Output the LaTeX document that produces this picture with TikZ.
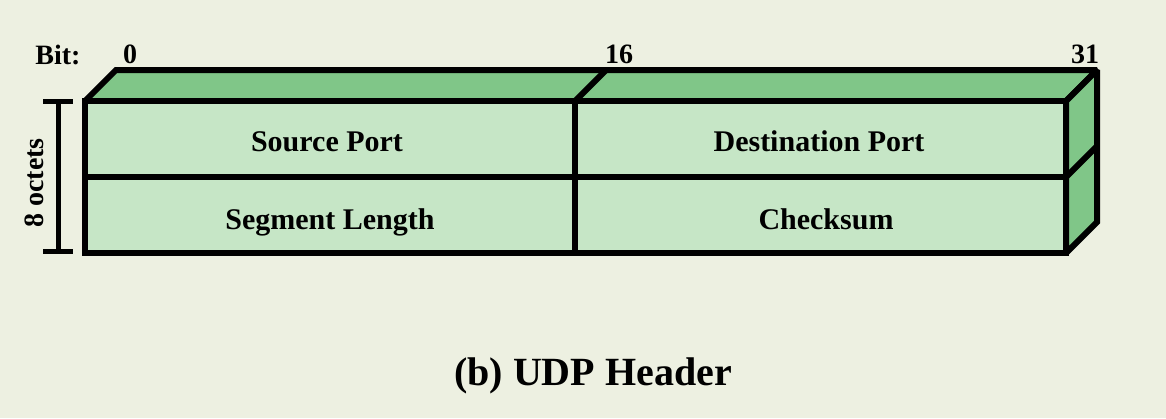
\documentclass[tikz,border=0pt]{standalone}
\usepackage{fontspec}
\setmainfont{Liberation Serif}
\usetikzlibrary{positioning,calc}
\definecolor{bgcol}{HTML}{EDF0E1}
\definecolor{facecol}{HTML}{C6E6C6}
\definecolor{topcol}{HTML}{80C688}

\tikzset{
  edge/.style={line width=6pt,line join=miter,miter limit=1.5},
  fieldlbl/.style={font=\fontsize{30}{32}\selectfont\bfseries,inner sep=0pt,anchor=base},
  bitlbl/.style={font=\fontsize{28}{30}\selectfont\bfseries,inner sep=0pt,anchor=base},
  titlelbl/.style={font=\fontsize{40}{44}\selectfont\bfseries,inner sep=0pt,anchor=base}
}

\begin{document}
\begin{tikzpicture}[x=1pt,y=-1pt]
    \fill[bgcol] (0,0) rectangle (1166,418);
    \useasboundingbox (0,0) rectangle (1166,418);
    % front face corners
    \coordinate (tl) at (85,101);
    \coordinate (tr) at (1066,101);
    \coordinate (bl) at (85,253);
    \coordinate (br) at (1066,253);
    \coordinate (ml) at (85,177);
    \coordinate (mr) at (1066,177);
    \coordinate (dt) at (575,101);
    \coordinate (db) at (575,253);
    % top and side faces
    \filldraw[edge,fill=topcol] (tl) -- ++(31,-31) -- ++(981,0) -- (tr) -- cycle;
    \filldraw[edge,fill=topcol] (tr) -- ++(31,-31) -- ++(0,152) -- (br) -- cycle;
    \draw[edge] (dt) -- ++(31,-31);
    \draw[edge] (mr) -- ++(31,-31);
    % front face
    \filldraw[edge,fill=facecol] (tl) rectangle (br);
    \draw[edge] (ml) -- (mr);
    \draw[edge] (dt) -- (db);
    % fields
    \node[fieldlbl] (srcport) at (327,151) {Source Port};
    \node[fieldlbl] (dstport) at (819,151) {Destination Port};
    \node[fieldlbl] (seglen) at (330,229) {Segment Length};
    \node[fieldlbl] (chksum) at (826,229) {Checksum};
    % bit numbers
    \node[bitlbl] (bit) at (58,64) {Bit:};
    \node[bitlbl] (b0) at (130,63) {0};
    \node[bitlbl] (b16) at (619,63) {16};
    \node[bitlbl] (b31) at (1085,63) {31};
    % size bracket
    \coordinate (st) at (58,101);
    \coordinate (sb) at (58,251);
    \draw[line width=5pt] ($(st)+(-15,0)$) -- ($(st)+(15,0)$);
    \draw[line width=5pt] ($(sb)+(-15,0)$) -- ($(sb)+(15,0)$);
    \draw[line width=5pt] (st) -- (sb);
    \node[bitlbl,rotate=90] (octets) at (43,183) {8 octets};
    % caption
    \node[titlelbl] (caption) at (593,385) {(b) UDP Header};
\end{tikzpicture}
\end{document}
